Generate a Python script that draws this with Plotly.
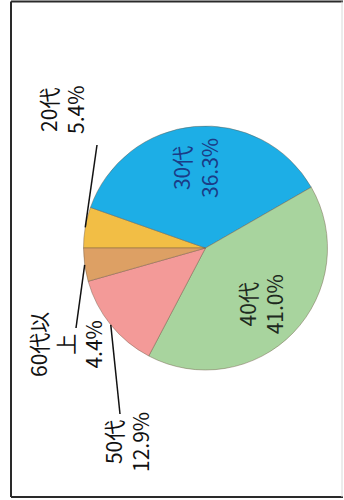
import math
import plotly.graph_objects as go

# Age-group shares (%)
ages = ["20代", "30代", "40代", "50代", "60代以上"]
shares = [5.4, 36.3, 41.0, 12.9, 4.4]
# Label text as displayed (the last name wraps)
display_names = ["20代", "30代", "40代", "50代", "60代以<br>上"]
slice_colors = ["#F2BE45", "#1DAEE6", "#A8D49E", "#F39A98", "#DDA064"]
inside_text_colors = {"30代": "#1B3C86", "40代": "#1E2A1E"}

W, H = 344, 500
FONT = "Noto Sans CJK JP"

# Pie geometry in pixels
CX, CY, R = 205.5, 248.0, 122.0
START_DEG = 270.0  # first slice begins at 9 o'clock, running clockwise


def px(x):
    return x / W


def py(y):
    return 1 - y / H


def point(angle_deg, frac):
    a = math.radians(angle_deg)
    return CX + frac * R * math.sin(a), CY - frac * R * math.cos(a)


# Mid-angle of every slice, from the data
total = sum(shares)
mids = []
acc = START_DEG
for s in shares:
    span = 360.0 * s / total
    mids.append((acc + span / 2) % 360)
    acc += span

fig = go.Figure()
fig.add_trace(go.Pie(
    labels=ages,
    values=shares,
    sort=False,
    direction="clockwise",
    rotation=START_DEG - 360,
    marker=dict(colors=slice_colors, line=dict(color="rgba(110,90,70,0.55)", width=0.8)),
    textinfo="none",
    hoverinfo="label+percent",
    showlegend=False,
    domain=dict(x=[px(CX - R), px(CX + R)], y=[py(CY + R), py(CY - R)]),
))

annotations = []
shapes = []


def add_label(i, x, y, color="#111111"):
    annotations.append(dict(
        x=px(x), y=py(y), xref="paper", yref="paper",
        text=f"{display_names[i]}<br>{shares[i]:.1f}%",
        showarrow=False, textangle=-90, align="center",
        xanchor="center", yanchor="middle",
        font=dict(family=FONT, size=21, color=color),
    ))


# Labels drawn inside the two large slices
for name in ("30代", "40代"):
    i = ages.index(name)
    x, y = point(mids[i], 0.66)
    add_label(i, x - 3, y, inside_text_colors[name])

# Outside labels with leader lines: (leader end, label centre)
outside = {
    "20代": ((97, 145), (62, 109)),
    "60代以上": ((76, 328), (65, 345)),
    "50代": ((120, 414), (126, 442)),
}
for name, (end, centre) in outside.items():
    i = ages.index(name)
    sx, sy = point(mids[i], 1.0)
    shapes.append(dict(
        type="line", xref="paper", yref="paper",
        x0=px(sx), y0=py(sy), x1=px(end[0]), y1=py(end[1]),
        line=dict(color="#111111", width=1.5),
    ))
    add_label(i, centre[0], centre[1])

# Chart frame
frame = [
    ((11, 1.5), (11, 497), "#2a2a2a", 2),
    ((11, 1.5), (343, 1.5), "#2a2a2a", 2),
    ((11, 497), (343, 497), "#2a2a2a", 2),
    ((342, 1.5), (342, 497), "#d8d8d8", 1),
]
for (x0, y0), (x1, y1), col, w in frame:
    shapes.append(dict(
        type="line", xref="paper", yref="paper",
        x0=px(x0), y0=py(y0), x1=px(x1), y1=py(y1),
        line=dict(color=col, width=w),
    ))

fig.update_layout(
    width=W, height=H,
    margin=dict(l=0, r=0, t=0, b=0),
    paper_bgcolor="white", plot_bgcolor="white",
    annotations=annotations, shapes=shapes,
)

fig.write_html("out.html")
